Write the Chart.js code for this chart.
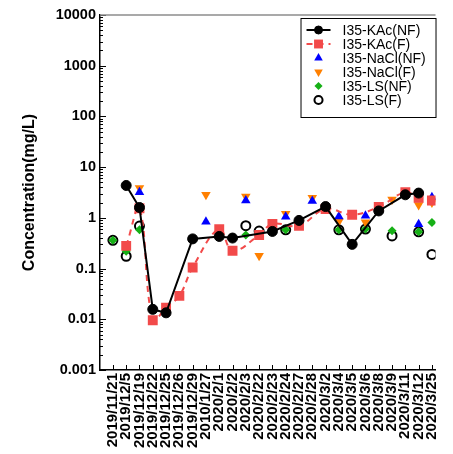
<!DOCTYPE html>
<html>
<head>
<meta charset="utf-8">
<script src="https://cdn.jsdelivr.net/npm/chart.js@4/dist/chart.umd.min.js"></script>
<style>
  html, body { margin: 0; padding: 0; background: #fff; }
  #wrap { position: relative; width: 453px; height: 454px; }
</style>
</head>
<body>
<div id="wrap"><canvas id="chart"></canvas></div>
<script>
// sampling dates (x categories) and concentrations in mg/L; null = not sampled
const dates = [
  '2019/11/21', '2019/12/5', '2019/12/19', '2019/12/22', '2019/12/25', '2019/12/26',
  '2019/12/29', '2010/1/27', '2020/2/1', '2020/2/2', '2020/2/3', '2020/2/22',
  '2020/2/23', '2020/2/24', '2020/2/27', '2020/2/28', '2020/3/2', '2020/3/4',
  '2020/3/5', '2020/3/6', '2020/3/8', '2020/3/9', '2020/3/11', '2020/3/12', '2020/3/25',
];
const kacNF = [null, 4.35, 1.6, 0.0157, 0.0134, null, 0.385, null, 0.43, 0.40, null, null,
  0.54, null, 0.89, null, 1.67, null, 0.30, null, 1.37, null, 2.85, 3.08, null];
const kacF = [null, 0.28, 1.55, 0.0096, 0.017, 0.029, 0.105, null, 0.6, 0.225, null, 0.46,
  0.76, null, 0.70, null, 1.5, null, 1.15, null, 1.65, null, 3.2, 2.5, 2.2];
const naclNF = [null, null, 3.2, null, null, null, null, 0.84, null, null, 2.2, null,
  null, 1.05, null, 2.15, null, 1.06, null, 1.1, null, null, null, 0.75, 2.55];
const naclF = [null, null, 3.9, null, null, null, null, 2.85, null, null, 2.65, 0.18,
  null, 1.2, null, 2.5, null, 0.85, null, 0.82, null, 2.3, null, 1.8, 2.0];
const lsNF = [0.36, 0.22, 0.58, null, null, null, null, null, null, null, 0.46, null,
  null, 0.58, null, null, null, 0.58, null, 0.6, null, 0.56, null, 0.53, 0.81];
const lsF = [0.36, 0.175, 0.69, null, null, null, null, null, null, null, 0.70, 0.55,
  null, 0.58, null, null, null, 0.58, null, 0.6, null, 0.44, null, 0.53, 0.19];

// log axis: labelled decades plus unlabelled 2..9 minor ticks
const decades = [0.001, 0.01, 0.1, 1, 10, 100, 1000, 10000];
const decadeLabels = ['0.001', '0.01', '0.1', '1', '10', '100', '1000', '10000'];
const minorSteps = [2, 3, 4, 5, 6, 7, 8, 9];

const FONT = "'Liberation Sans', Arial, sans-serif";
Chart.defaults.font.family = FONT;
Chart.defaults.color = '#000';

const toPoints = (vals) => vals.map((y, x) => ({ x, y }));

const marker = (color, style, radius, extra = {}) => ({
  showLine: false,
  pointStyle: style,
  pointRadius: radius,
  pointHoverRadius: radius,
  pointBackgroundColor: color,
  pointBorderColor: color,
  pointBorderWidth: 0,
  borderColor: color,
  backgroundColor: color,
  ...extra,
});

const datasets = [
  {
    label: 'I35-KAc(NF)', data: toPoints(kacNF),
    showLine: true, spanGaps: true, borderColor: '#000', borderWidth: 2,
    pointStyle: 'circle', pointRadius: 5, pointHoverRadius: 5,
    pointBackgroundColor: '#000', pointBorderColor: '#000', pointBorderWidth: 1,
  },
  {
    label: 'I35-KAc(F)', data: toPoints(kacF),
    showLine: true, spanGaps: true, tension: 0.4,
    borderColor: '#f24a4a', borderWidth: 2, borderDash: [6, 5],
    pointStyle: 'rect', pointRadius: 7, pointHoverRadius: 7,
    pointBackgroundColor: '#f24a4a', pointBorderColor: '#f24a4a', pointBorderWidth: 0,
  },
  { label: 'I35-NaCl(NF)', data: toPoints(naclNF), ...marker('#0000ff', 'triangle', 5.5) },
  { label: 'I35-NaCl(F)', data: toPoints(naclF), ...marker('#ff8000', 'triangle', 5.5, { pointRotation: 180 }) },
  { label: 'I35-LS(NF)', data: toPoints(lsNF), ...marker('#16b016', 'rectRot', 4.5) },
  {
    label: 'I35-LS(F)', data: toPoints(lsF),
    ...marker('#000', 'circle', 4.5, { pointBackgroundColor: 'rgba(0,0,0,0)', pointBorderWidth: 2 }),
  },
];

// inward tick marks on both axes + grey frame line across the top
const tickMarks = {
  id: 'tickMarks',
  afterDraw(chart) {
    const { ctx, chartArea: a, scales: { x, y } } = chart;
    const seg = (x0, y0, x1, y1) => { ctx.beginPath(); ctx.moveTo(x0, y0); ctx.lineTo(x1, y1); ctx.stroke(); };
    ctx.save();
    ctx.strokeStyle = '#000';
    ctx.lineWidth = 1;
    y.ticks.forEach((t) => {
      const py = Math.round(y.getPixelForValue(t.value)) + 0.5;
      seg(a.left, py, a.left + (t.major ? 6 : 3), py);
    });
    x.ticks.forEach((t) => {
      const px = Math.round(x.getPixelForValue(t.value)) + 0.5;
      seg(px, a.bottom, px, a.bottom - 5);
    });
    ctx.strokeStyle = '#8c8c8c';
    ctx.lineWidth = 1.5;
    seg(a.left, a.top, a.right, a.top);
    ctx.restore();
  },
};

// boxed legend in the top-right corner, symbols taken from the datasets
const boxLegend = {
  id: 'boxLegend',
  afterDraw(chart) {
    const { ctx, chartArea: a } = chart;
    const { drawPoint } = Chart.helpers;
    const w = 135, rowH = 14;
    const left = a.right - w, top = a.top + 3;
    const sets = chart.data.datasets;
    ctx.save();
    ctx.fillStyle = '#fff';
    ctx.fillRect(left, top, w, rowH * sets.length + 15);
    ctx.strokeStyle = '#000';
    ctx.lineWidth = 1;
    ctx.strokeRect(left + 0.5, top + 0.5, w, rowH * sets.length + 15);
    sets.forEach((ds, i) => {
      const cy = top + 12 + i * rowH;
      const cx = left + 18;
      if (ds.showLine) {
        ctx.save();
        ctx.strokeStyle = ds.borderColor;
        ctx.lineWidth = ds.borderWidth;
        ctx.setLineDash(ds.borderDash || []);
        ctx.beginPath();
        ctx.moveTo(cx - 12, cy);
        ctx.lineTo(cx + 12, cy);
        ctx.stroke();
        ctx.restore();
      }
      ctx.fillStyle = ds.pointBackgroundColor;
      ctx.strokeStyle = ds.pointBorderColor;
      ctx.lineWidth = ds.pointBorderWidth;
      drawPoint(ctx, {
        pointStyle: ds.pointStyle,
        rotation: ds.pointRotation || 0,
        radius: ds.pointStyle === 'circle' && ds.showLine ? 4 : ds.pointRadius * 0.9,
        borderWidth: ds.pointBorderWidth,
      }, cx, cy);
      ctx.fillStyle = '#000';
      ctx.font = `14px ${FONT}`;
      ctx.textBaseline = 'middle';
      ctx.fillText(ds.label, left + 42, cy + 1);
    });
    ctx.restore();
  },
};

new Chart(document.getElementById('chart'), {
  type: 'line',
  data: { datasets },
  options: {
    responsive: true,
    maintainAspectRatio: false,
    animation: false,
    events: [],
    layout: { padding: { top: 15, right: 6, left: 0, bottom: 0 } },
    plugins: { legend: { display: false }, tooltip: { enabled: false } },
    scales: {
      x: {
        type: 'linear',
        min: -0.97,
        max: 24.27,
        afterBuildTicks: (scale) => { scale.ticks = dates.map((_, i) => ({ value: i })); },
        afterFit: (scale) => { scale.height = 84; },
        grid: { display: true, drawOnChartArea: false, drawTicks: false },
        border: { color: '#000', width: 1.5 },
        ticks: {
          autoSkip: false, minRotation: 90, maxRotation: 90, padding: 3,
          font: { size: 15, weight: 'bold' },
          callback: (v) => dates[v] ?? '',
        },
      },
      y: {
        type: 'logarithmic',
        min: 0.001,
        max: 10000,
        afterBuildTicks: (scale) => {
          const ticks = [];
          decades.forEach((d, i) => {
            ticks.push({ value: d, major: true });
            if (i < decades.length - 1) minorSteps.forEach((m) => ticks.push({ value: d * m, major: false }));
          });
          scale.ticks = ticks;
        },
        afterFit: (scale) => { scale.width = 100; },
        grid: { display: true, drawOnChartArea: false, drawTicks: false },
        border: { color: '#000', width: 1.5 },
        ticks: {
          autoSkip: false, padding: 4,
          font: { size: 14.5, weight: 'bold' },
          callback: (v) => { const i = decades.indexOf(v); return i >= 0 ? decadeLabels[i] : ''; },
        },
        title: {
          display: true, text: 'Concentration(mg/L)',
          font: { size: 16, weight: 'bold' }, padding: { top: 20, bottom: 0 },
        },
      },
    },
  },
  plugins: [tickMarks, boxLegend],
});
</script>
</body>
</html>
